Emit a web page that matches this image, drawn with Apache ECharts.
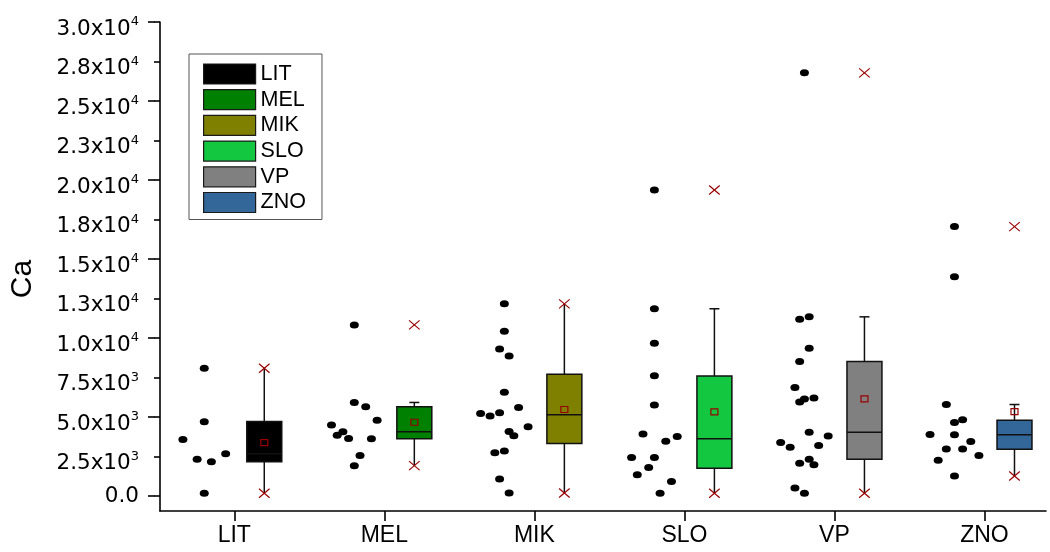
<!DOCTYPE html>
<html>
<head>
<meta charset="utf-8">
<script src="https://cdn.jsdelivr.net/npm/echarts@6/dist/echarts.min.js"></script>
<style>
  html, body { margin: 0; padding: 0; background: #fff; }
  #chart { width: 1050px; height: 552px; }
</style>
</head>
<body>
<div id="chart"></div>
<script>
// Groups and their fill colours
const groups = ['LIT', 'MEL', 'MIK', 'SLO', 'VP', 'ZNO'];
const groupColors = ['#000000', '#008000', '#808000', '#14C740', '#808080', '#336699'];

// Ca measurements per group (data order)
const litValues = [8080, 4700, 3570, 2330, 2160, 2670, 170];
const melValues = [10830, 4490, 4060, 5920, 5650, 4800, 3850, 3640, 2560, 3630, 1920];
const mikValues = [12160, 10430, 9310, 8860, 6560, 5220, 5060, 5270, 4080, 5600, 4380, 2730, 2840, 3810, 1080, 190];
const sloValues = [19370, 11850, 9660, 7610, 5760, 2430, 3920, 2430, 3470, 3760, 1350, 1800, 170, 910];
const vpValues = [26780, 11190, 11340, 8520, 9350, 6870, 6140, 6200, 5950, 4030, 3380, 3090, 2080, 2330, 3190, 3790, 510, 170, 1970];
const znoValues = [17050, 13880, 5790, 4650, 4820, 3890, 2270, 2980, 3870, 2980, 3450, 2560, 1270];
const pointsByGroup = [litValues, melValues, mikValues, sloValues, vpValues, znoValues];

// Box edges (25th / 75th percentiles)
const q1Values = [2160, 3620, 3320, 1760, 2330, 2960];
const q3Values = [4710, 5650, 7700, 7600, 8520, 4800];

// Y axis ticks: every label gets a short tick, multiples of 5000 get a long one
const yMajorTicks = [0, 5000, 10000, 15000, 20000, 25000, 30000];
const yLabelTicks = [0, 2500, 5000, 7500, 10000, 12500, 15000, 17500, 20000, 22500, 25000, 27500, 30000];

// Layout constants (category units)
const PT_SHIFT = -0.2;   // point cloud left of centre
const BOX_SHIFT = 0.2;   // box right of centre
const BOX_W = 0.233;
const SPREAD = 0.38;     // total horizontal spread of a point bin
const BIN = 2000;        // value bin used to spread points sideways

function median(a) {
  const s = a.slice().sort((x, y) => x - y);
  const n = s.length;
  return n % 2 ? s[(n - 1) / 2] : (s[n / 2 - 1] + s[n / 2]) / 2;
}

const stats = pointsByGroup.map((vals, i) => {
  const q1 = q1Values[i], q3 = q3Values[i], iqr = q3 - q1;
  const hiFence = q3 + 1.5 * iqr, loFence = q1 - 1.5 * iqr;
  const inside = vals.filter(v => v >= loFence && v <= hiFence);
  return {
    q1, q3,
    med: median(vals),
    mean: vals.reduce((a, b) => a + b, 0) / vals.length,
    wl: Math.min(...inside),
    wh: Math.max(...inside),
    min: Math.min(...vals),
    max: Math.max(...vals)
  };
});

// Binned point layout: points sharing a value bin are spread side by side
function spreadPoints(vals, gi) {
  const bins = new Map();
  vals.forEach(v => {
    const b = Math.floor(v / BIN);
    if (!bins.has(b)) bins.set(b, []);
    bins.get(b).push(v);
  });
  const maxN = Math.max(...[...bins.values()].map(a => a.length));
  const step = SPREAD / maxN;
  const out = [];
  bins.forEach(arr => arr.forEach((v, k) => {
    out.push([gi + PT_SHIFT + (k - (arr.length - 1) / 2) * step, v]);
  }));
  return out;
}

const MARK_RED = '#990000';
const EDGE = '#111111';

function crossShape(cx, cy) {
  const dx = 5.3, dy = 4.5;
  return [
    { type: 'line', shape: { x1: cx - dx, y1: cy - dy, x2: cx + dx, y2: cy + dy }, style: { stroke: MARK_RED, lineWidth: 1.2 } },
    { type: 'line', shape: { x1: cx - dx, y1: cy + dy, x2: cx + dx, y2: cy - dy }, style: { stroke: MARK_RED, lineWidth: 1.2 } }
  ];
}

function boxSeries(gi) {
  const s = stats[gi];
  return {
    type: 'custom',
    name: groups[gi],
    itemStyle: { color: groupColors[gi] },
    data: [[gi, s.q1, s.med, s.q3, s.wl, s.wh, s.mean, s.min, s.max]],
    encode: { x: 0, y: [1, 2, 3, 4, 5, 6, 7, 8] },
    z: 3,
    renderItem(params, api) {
      const x = api.value(0) + BOX_SHIFT;
      const Y = k => api.coord([x, api.value(k)])[1];
      const c = api.coord([x, 0])[0];
      const hw = api.size([BOX_W, 0])[0] / 2;
      const yq1 = Y(1), ymed = Y(2), yq3 = Y(3), ywl = Y(4), ywh = Y(5), ymean = Y(6), ymin = Y(7), ymax = Y(8);
      const line = (x1, y1, x2, y2, w) => ({ type: 'line', shape: { x1, y1, x2, y2 }, style: { stroke: EDGE, lineWidth: w } });
      const children = [
        line(c, yq1, c, ywl, 1.5),
        line(c, yq3, c, ywh, 1.5)
      ];
      if (api.value(5) !== api.value(8)) children.push(line(c - 5, ywh, c + 5, ywh, 1.5));
      if (api.value(4) !== api.value(7)) children.push(line(c - 5, ywl, c + 5, ywl, 1.5));
      children.push({
        type: 'rect',
        shape: { x: c - hw, y: yq3, width: 2 * hw, height: yq1 - yq3 },
        style: { fill: groupColors[gi], stroke: EDGE, lineWidth: 1.5 }
      });
      children.push(line(c - hw, ymed, c + hw, ymed, 1.5));
      children.push({
        type: 'rect',
        shape: { x: c - 3.5, y: ymean - 3, width: 7, height: 6 },
        style: { fill: 'none', stroke: MARK_RED, lineWidth: 1.2 }
      });
      children.push(...crossShape(c, ymin), ...crossShape(c, ymax));
      return { type: 'group', children };
    }
  };
}

function sciLabel(v) {
  if (v === 0) return '{z|0.0}';
  const e = String(Math.round(v)).length - 1;
  const m = (v / Math.pow(10, e)).toFixed(1);
  return '{m|' + m + 'x10}{s|' + e + '}';
}

const chart = echarts.init(document.getElementById('chart'), null, { renderer: 'canvas' });

const Y_MIN = -950, Y_MAX = 30000;
const X_MIN = -0.495, X_MAX = 5.41;
const SHORT_TICK = 6, LONG_TICK = 12;
const yTitle = {
  type: 'text',
  x: 23,
  y: 279,
  rotation: Math.PI / 2,
  style: {
    text: 'Ca',
    fontFamily: 'Liberation Sans',
    fontSize: 30,
    fill: '#000',
    align: 'center',
    verticalAlign: 'middle'
  }
};

chart.setOption({
  animation: false,
  backgroundColor: '#ffffff',
  grid: { left: 160, top: 22, right: 4, bottom: 41, containLabel: false },
  legend: {
    orient: 'vertical',
    left: 189,
    top: 54,
    padding: [9, 16, 6, 14],
    itemWidth: 52,
    itemHeight: 20,
    itemGap: 3.7,
    icon: 'rect',
    borderColor: '#555555',
    borderWidth: 1,
    backgroundColor: '#ffffff',
    selectedMode: false,
    textStyle: { fontFamily: 'Liberation Sans', fontSize: 21.5, color: '#000', lineHeight: 20 },
    data: groups.map((g, i) => ({
      name: g,
      itemStyle: { color: groupColors[i], borderColor: '#1a1a1a', borderWidth: 1.2 }
    }))
  },
  xAxis: {
    type: 'value',
    min: X_MIN,
    max: X_MAX,
    axisLine: { show: true, onZero: false, lineStyle: { color: '#000', width: 1.6 } },
    axisTick: { show: true, customValues: groups.map((g, i) => i), length: 10, lineStyle: { color: '#000', width: 1.6 } },
    axisLabel: {
      customValues: groups.map((g, i) => i),
      formatter: v => groups[Math.round(v)],
      fontFamily: 'Liberation Sans', fontSize: 23, color: '#000', margin: 13
    },
    splitLine: { show: false }
  },
  yAxis: {
    type: 'value',
    min: Y_MIN,
    max: Y_MAX,
    axisLine: { show: true, onZero: false, lineStyle: { color: '#000', width: 1.6 } },
    axisTick: { show: true, customValues: yLabelTicks, length: SHORT_TICK, lineStyle: { color: '#000', width: 1.6 } },
    axisLabel: {
      customValues: yLabelTicks,
      formatter: sciLabel,
      margin: 21,
      color: '#000',
      rich: {
        m: { fontFamily: 'DejaVu Sans', fontSize: 21.5, color: '#000', padding: [14, 0, 0, 0] },
        s: { fontFamily: 'DejaVu Sans', fontSize: 13, color: '#000' },
        z: { fontFamily: 'DejaVu Sans', fontSize: 21.5, color: '#000' }
      }
    },
    splitLine: { show: false }
  },
  graphic: [yTitle],
  series: [
    ...groups.map((g, i) => boxSeries(i)),
    ...groups.map((g, i) => ({
      type: 'scatter',
      name: 'points-' + g,
      symbol: 'circle',
      symbolSize: [9, 7],
      itemStyle: { color: '#000', opacity: 1 },
      data: spreadPoints(pointsByGroup[i], i),
      z: 4
    }))
  ]
});

// lengthen the ticks at multiples of 5000, placed through the axis scales
const axisX = chart.convertToPixel({ xAxisIndex: 0 }, X_MIN);
const majorTickEls = yMajorTicks.map(v => {
  const y = chart.convertToPixel({ yAxisIndex: 0 }, v);
  return {
    type: 'line',
    z: 50,
    shape: { x1: axisX - LONG_TICK, y1: y, x2: axisX - SHORT_TICK + 0.5, y2: y },
    style: { stroke: '#000', lineWidth: 1.6 }
  };
});
chart.setOption({ graphic: [yTitle, ...majorTickEls] });
</script>
</body>
</html>
